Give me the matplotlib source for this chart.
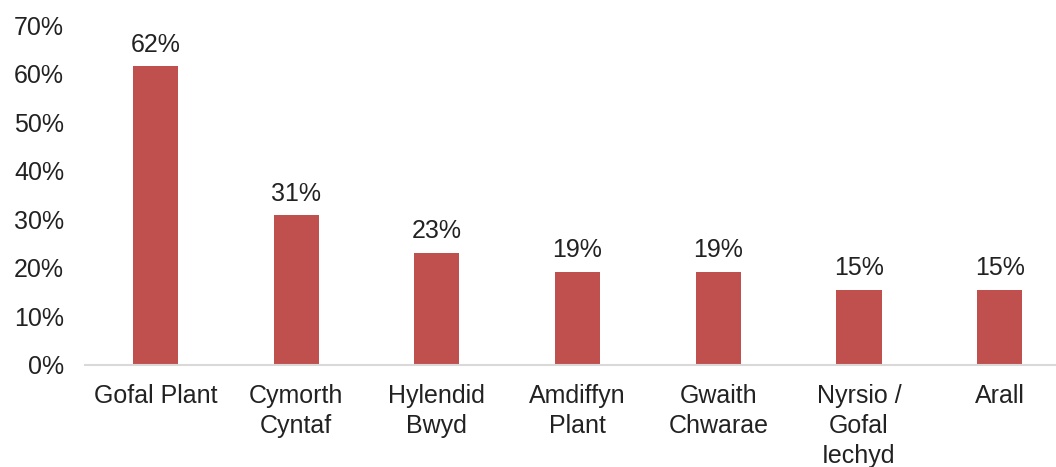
import matplotlib.pyplot as plt
from matplotlib.ticker import FuncFormatter

categories = ["Gofal Plant", "Cymorth\nCyntaf", "Hylendid\nBwyd", "Amdiffyn\nPlant",
              "Gwaith\nChwarae", "Nyrsio /\nGofal\nIechyd", "Arall"]
values = [61.5, 30.8, 23.1, 19.2, 19.2, 15.4, 15.4]

BAR_COLOR = "#C0504D"
TEXT_COLOR = "#222222"

plt.rcParams["font.family"] = ["Liberation Sans", "DejaVu Sans"]

fig = plt.figure(figsize=(10.56, 4.67), dpi=100)
ax = fig.add_axes([85 / 1056, 102 / 467, 1 - 85 / 1056, 340 / 467])

x = list(range(len(categories)))
bars = ax.bar(x, values, width=0.32, color=BAR_COLOR)

for bar, value in zip(bars, values):
    ax.annotate(f"{value:.0f}%", (bar.get_x() + bar.get_width() / 2, value),
                xytext=(0, 7), textcoords="offset points",
                ha="center", va="bottom", fontsize=18, color=TEXT_COLOR)

ax.set_xlim(-0.5, 6.4)
ax.set_ylim(0, 70)
ax.set_yticks(range(0, 71, 10))
ax.yaxis.set_major_formatter(FuncFormatter(lambda v, _: f"{v:.0f}%"))
ax.set_xticks(x)
ax.set_xticklabels(categories, linespacing=1.3)

ax.tick_params(axis="both", length=0, labelsize=18, labelcolor=TEXT_COLOR)
ax.tick_params(axis="y", pad=15)
ax.tick_params(axis="x", pad=14)

for side in ["left", "right", "top"]:
    ax.spines[side].set_visible(False)
ax.spines["bottom"].set_color("#D9D9D9")
ax.spines["bottom"].set_linewidth(1.5)

fig.savefig("out.png", dpi=100)
